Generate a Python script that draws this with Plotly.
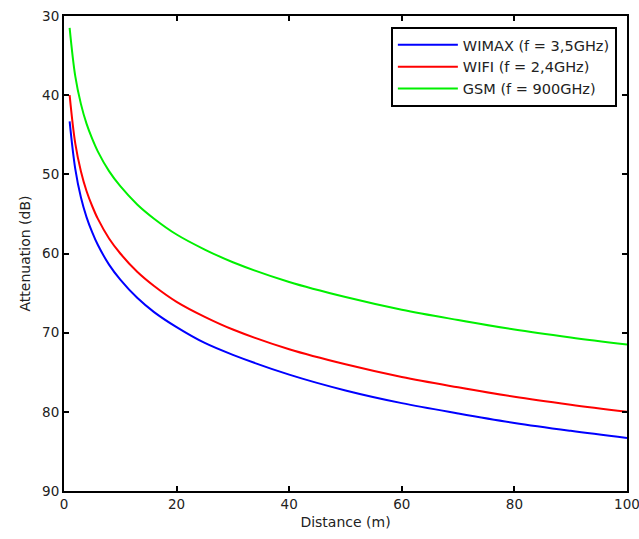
import plotly.graph_objects as go

distance = [1, 2, 3, 4, 5, 6, 8, 10, 13, 16, 20, 25, 30, 40, 50, 60, 70, 80, 90, 100]
wimax = [43.3, 49.3, 52.9, 55.4, 57.3, 58.9, 61.4, 63.3, 65.6, 67.4, 69.3, 71.3, 72.8, 75.3, 77.3, 78.9, 80.2, 81.4, 82.4, 83.3]
wifi = [40.0, 46.1, 49.6, 52.1, 54.0, 55.6, 58.1, 60.0, 62.3, 64.1, 66.1, 68.0, 69.6, 72.1, 74.0, 75.6, 76.9, 78.1, 79.1, 80.0]
gsm = [31.5, 37.6, 41.1, 43.6, 45.5, 47.1, 49.6, 51.5, 53.8, 55.6, 57.6, 59.5, 61.1, 63.6, 65.5, 67.1, 68.4, 69.6, 70.6, 71.5]

series = [
    ("WIMAX (f = 3,5GHz)", wimax, "rgb(0,0,255)"),
    ("WIFI (f = 2,4GHz)", wifi, "rgb(255,0,0)"),
    ("GSM (f = 900GHz)", gsm, "rgb(0,240,0)"),
]

x_ticks = [0, 20, 40, 60, 80, 100]
y_ticks = [30, 40, 50, 60, 70, 80, 90]

FONT = "DejaVu Sans, Liberation Sans, Arial"

fig = go.Figure()
for name, vals, col in series:
    fig.add_trace(go.Scatter(x=distance, y=vals, mode="lines", name=name,
                             line=dict(color=col, width=2, shape="spline")))

axis_common = dict(showgrid=False, zeroline=False, showline=True, linecolor="black",
                   linewidth=2, mirror="allticks", ticks="inside", ticklen=5,
                   tickcolor="black", tickwidth=1.5, automargin=False,
                   ticklabeloverflow="allow",
                   tickfont=dict(family=FONT, size=13.5, color="#222"))

fig.update_layout(
    width=639, height=539,
    margin=dict(l=64, r=12, t=16, b=48),
    paper_bgcolor="white", plot_bgcolor="white",
    showlegend=True,
    legend=dict(x=0.982, y=0.977, xanchor="right", yanchor="top",
                bgcolor="white", bordercolor="black", borderwidth=2,
                font=dict(family=FONT, size=14.5, color="#222"),
                tracegroupgap=0, itemwidth=60),
    xaxis=dict(range=[0, 100], tickvals=x_ticks,
               title=dict(text="Distance (m)", standoff=6,
                          font=dict(family=FONT, size=14, color="#222")),
               **axis_common),
    yaxis=dict(range=[90, 30], tickvals=y_ticks,
               title=dict(text="Attenuation (dB)", standoff=8,
                          font=dict(family=FONT, size=14, color="#222")),
               **axis_common),
)

fig.write_html("out.html",
               config={"displayModeBar": False},
               post_script="document.body.style.margin='0';document.body.style.overflow='hidden';")
